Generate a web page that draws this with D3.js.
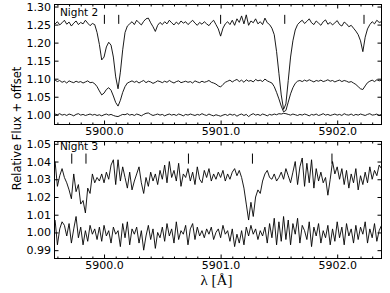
<!DOCTYPE html>
<html><head><meta charset="utf-8">
<script src="https://cdnjs.cloudflare.com/ajax/libs/d3/7.8.5/d3.min.js"></script>
<style>body{margin:0;background:#fff} svg{display:block;background:#fff}</style>
</head><body><svg id="c" width="390" height="293"></svg>
<script>
const wavelength = [
5899.58,5899.60,5899.62,5899.64,5899.66,5899.68,5899.70,5899.72,5899.74,5899.76,
5899.78,5899.80,5899.82,5899.84,5899.86,5899.88,5899.90,5899.92,5899.94,5899.96,
5899.98,5900.00,5900.02,5900.04,5900.06,5900.08,5900.10,5900.12,5900.14,5900.16,
5900.18,5900.20,5900.22,5900.24,5900.26,5900.28,5900.30,5900.32,5900.34,5900.36,
5900.38,5900.40,5900.42,5900.44,5900.46,5900.48,5900.50,5900.52,5900.54,5900.56,
5900.58,5900.60,5900.62,5900.64,5900.66,5900.68,5900.70,5900.72,5900.74,5900.76,
5900.78,5900.80,5900.82,5900.84,5900.86,5900.88,5900.90,5900.92,5900.94,5900.96,
5900.98,5901.00,5901.02,5901.04,5901.06,5901.08,5901.10,5901.12,5901.14,5901.16,
5901.18,5901.20,5901.22,5901.24,5901.26,5901.28,5901.30,5901.32,5901.34,5901.36,
5901.38,5901.40,5901.42,5901.44,5901.46,5901.48,5901.50,5901.52,5901.54,5901.56,
5901.58,5901.60,5901.62,5901.64,5901.66,5901.68,5901.70,5901.72,5901.74,5901.76,
5901.78,5901.80,5901.82,5901.84,5901.86,5901.88,5901.90,5901.92,5901.94,5901.96,
5901.98,5902.00,5902.02,5902.04,5902.06,5902.08,5902.10,5902.12,5902.14,5902.16,
5902.18,5902.20,5902.22,5902.24,5902.26,5902.28,5902.30,5902.32,5902.34,5902.36,
5902.38];

const night2Top = [
1.252,1.258,1.249,1.255,1.262,1.251,1.257,1.246,1.254,1.260,
1.250,1.256,1.252,1.262,1.254,1.247,1.253,1.250,1.228,1.195,
1.152,1.160,1.188,1.201,1.193,1.160,1.105,1.072,1.118,1.180,
1.228,1.246,1.252,1.258,1.250,1.262,1.255,1.249,1.259,1.266,
1.268,1.255,1.244,1.231,1.248,1.256,1.250,1.258,1.252,1.262,
1.255,1.249,1.257,1.251,1.260,1.254,1.258,1.250,1.256,1.262,
1.254,1.248,1.256,1.251,1.258,1.252,1.247,1.256,1.262,1.250,
1.238,1.218,1.240,1.252,1.258,1.250,1.262,1.248,1.266,1.256,
1.274,1.252,1.277,1.248,1.260,1.255,1.266,1.252,1.258,1.250,
1.268,1.255,1.250,1.240,1.222,1.175,1.115,1.055,1.015,1.030,
1.095,1.160,1.205,1.235,1.250,1.257,1.262,1.253,1.259,1.266,
1.255,1.250,1.260,1.254,1.248,1.258,1.263,1.251,1.256,1.249,
1.255,1.261,1.250,1.246,1.257,1.252,1.244,1.248,1.240,1.232,
1.222,1.205,1.175,1.215,1.238,1.250,1.258,1.252,1.262,1.256,
1.258];

const night2Mid = [
1.096,1.092,1.095,1.090,1.093,1.088,1.094,1.091,1.089,1.093,
1.090,1.092,1.088,1.091,1.094,1.089,1.090,1.086,1.078,1.066,
1.055,1.060,1.070,1.075,1.068,1.052,1.034,1.024,1.040,1.062,
1.078,1.088,1.091,1.094,1.090,1.093,1.088,1.092,1.095,1.089,
1.093,1.091,1.087,1.090,1.094,1.092,1.089,1.093,1.090,1.095,
1.091,1.088,1.092,1.094,1.089,1.091,1.093,1.090,1.092,1.088,
1.094,1.091,1.089,1.093,1.090,1.092,1.095,1.090,1.088,1.085,
1.080,1.077,1.084,1.090,1.093,1.096,1.091,1.095,1.098,1.092,
1.096,1.090,1.097,1.093,1.095,1.091,1.098,1.094,1.096,1.092,
1.099,1.094,1.091,1.088,1.078,1.062,1.044,1.024,1.008,1.012,
1.035,1.058,1.075,1.087,1.093,1.095,1.092,1.096,1.093,1.097,
1.094,1.091,1.095,1.093,1.096,1.092,1.094,1.097,1.093,1.095,
1.091,1.094,1.096,1.092,1.095,1.093,1.090,1.092,1.088,1.084,
1.078,1.072,1.070,1.080,1.089,1.093,1.096,1.092,1.097,1.094,
1.096];

const night2Low = [
1.002,1.000,1.003,0.999,1.001,0.998,1.002,1.000,0.997,1.001,
1.003,0.999,1.001,0.998,1.000,1.002,0.999,1.001,0.998,1.000,
0.997,1.000,1.002,0.999,1.001,0.998,0.996,0.995,0.998,1.001,
1.000,1.003,0.999,1.001,0.998,1.002,1.000,0.997,1.001,1.004,
1.005,1.001,0.998,1.000,1.002,0.999,1.001,0.997,1.000,1.002,
0.999,1.001,0.998,1.002,1.000,0.997,1.001,0.999,1.002,1.000,
0.998,1.001,0.999,1.003,1.000,0.998,1.002,0.999,0.997,1.000,
0.998,0.996,0.999,1.001,0.998,1.002,0.999,1.001,0.996,1.000,
1.002,0.998,1.001,0.995,1.000,1.003,0.999,1.001,0.998,1.002,
1.000,0.997,1.001,0.999,1.002,1.000,1.003,1.002,1.004,1.003,
1.001,0.999,1.002,1.000,0.998,1.001,0.999,1.002,1.000,0.997,
1.001,0.999,1.002,0.998,1.000,1.003,0.999,1.001,0.998,1.000,
1.002,0.999,1.001,0.998,1.003,1.000,0.999,1.002,0.998,1.001,
0.999,1.002,1.000,0.998,1.001,1.003,0.999,1.000,1.002,0.998,
1.001];

const night3Top = [
1.040,1.026,1.032,1.036,1.031,1.028,1.024,1.019,1.033,1.023,
1.027,1.016,1.018,1.011,1.025,1.022,1.033,1.028,1.031,1.029,
1.033,1.028,1.034,1.030,1.038,1.041,1.027,1.041,1.029,1.037,
1.031,1.025,1.034,1.024,1.029,1.033,1.037,1.028,1.022,1.031,
1.026,1.034,1.029,1.033,1.027,1.035,1.030,1.038,1.028,1.040,
1.031,1.035,1.029,1.039,1.026,1.033,1.031,1.036,1.029,1.034,
1.027,1.037,1.030,1.028,1.035,1.031,1.036,1.029,1.033,1.030,
1.034,1.031,1.035,1.029,1.033,1.030,1.034,1.036,1.032,1.035,
1.031,1.025,1.016,1.007,1.017,1.009,1.020,1.024,1.022,1.029,
1.033,1.035,1.031,1.030,1.033,1.029,1.031,1.034,1.030,1.036,
1.032,1.028,1.034,1.040,1.027,1.037,1.042,1.026,1.039,1.028,
1.041,1.025,1.036,1.029,1.034,1.028,1.031,1.021,1.030,1.040,
1.033,1.037,1.030,1.036,1.027,1.035,1.025,1.033,1.028,1.036,
1.024,1.032,1.027,1.034,1.028,1.037,1.030,1.035,1.032,1.038,
1.036];

const night3Low = [
1.007,0.993,1.002,1.006,1.004,0.998,1.005,0.994,1.002,1.009,
0.997,1.003,0.993,1.001,0.995,1.004,0.999,1.002,0.996,1.003,
0.995,1.004,0.998,1.001,0.994,1.003,0.999,1.001,0.992,1.005,
0.997,1.006,0.993,1.002,0.999,1.003,0.994,1.001,0.990,0.998,
1.004,0.996,1.002,0.991,1.000,0.997,1.003,0.995,1.005,0.998,
1.002,0.994,1.006,0.996,1.001,0.999,1.004,0.993,1.002,1.005,
0.996,1.003,0.998,1.001,0.997,1.002,0.999,1.003,0.996,1.000,
1.002,0.997,1.004,0.999,1.001,0.995,1.002,0.992,0.999,0.994,
1.001,0.993,1.003,0.998,1.004,0.999,1.002,0.996,1.001,0.998,
1.003,0.994,1.005,0.997,1.008,0.993,1.006,0.995,1.009,0.996,
1.007,0.993,1.005,0.999,1.008,0.994,1.004,1.001,0.996,1.006,
0.992,1.003,0.998,1.005,0.994,1.001,0.997,1.004,0.993,1.002,
0.995,1.006,0.997,1.003,0.993,1.005,0.998,1.002,0.994,1.004,
0.996,1.003,0.999,1.006,0.994,1.002,0.997,1.005,0.995,1.001,
1.004];

const night2Marks = [5900.003, 5900.126, 5901.0, 5901.55, 5902.23];
const night3Marks = [5899.723, 5899.845, 5900.724, 5901.273, 5901.955];
const night2MarkSpan = [1.252, 1.277];
const night3MarkSpan = [1.0388, 1.0445];

const xMajorTicks = [5900.0, 5901.0, 5902.0];
const xMinorTicks = [5899.6,5899.7,5899.8,5899.9,5900.1,5900.2,5900.3,5900.4,5900.5,5900.6,5900.7,5900.8,5900.9,
                     5901.1,5901.2,5901.3,5901.4,5901.5,5901.6,5901.7,5901.8,5901.9,5902.1,5902.2,5902.3];
const night2YTicks = [1.00, 1.05, 1.10, 1.15, 1.20, 1.25, 1.30];
const night3YTicks = [0.99, 1.00, 1.01, 1.02, 1.03, 1.04, 1.05];
const panelLabels = ["Night 2", "Night 3"];

const svg = d3.select('#c');
const L = 54.5, R = 381.5;
const x = d3.scaleLinear().domain([5899.575, 5902.38]).range([L, R]);

const panels = [
  {top: 4.5, bottom: 124.5, yDomain: [0.973, 1.3057], yTicks: night2YTicks, fmt: d3.format('.2f'),
   series: [night2Top, night2Mid, night2Low], marks: night2Marks, span: night2MarkSpan, label: panelLabels[0], labelY: 16},
  {top: 141.5, bottom: 258.5, yDomain: [0.9853, 1.0513], yTicks: night3YTicks, fmt: d3.format('.2f'),
   series: [night3Top, night3Low], marks: night3Marks, span: night3MarkSpan, label: panelLabels[1], labelY: 149.5}
];

panels.forEach((p, k) => {
  const y = d3.scaleLinear().domain(p.yDomain).range([p.bottom, p.top]);
  const g = svg.append('g');
  const cid = 'clip' + k;
  svg.append('clipPath').attr('id', cid).append('rect')
    .attr('x', L).attr('y', p.top).attr('width', R - L).attr('height', p.bottom - p.top);
  const line = d3.line().x((d, i) => x(wavelength[i])).y(d => y(d));
  const lg = g.append('g').attr('clip-path', `url(#${cid})`);
  p.series.forEach(s => {
    lg.append('path').datum(s).attr('d', line)
      .attr('fill', 'none').attr('stroke', '#000').attr('stroke-width', 0.9).attr('stroke-linejoin', 'round');
  });
  lg.selectAll('line.mark').data(p.marks).join('line').attr('class', 'mark')
    .attr('x1', d => x(d)).attr('x2', d => x(d))
    .attr('y1', y(p.span[0])).attr('y2', y(p.span[1]))
    .attr('stroke', '#000').attr('stroke-width', 1);

  const styleAxis = sel => {
    sel.attr('font-family', 'DejaVu Sans').attr('font-size', 11);
    sel.select('.domain').remove();
    sel.selectAll('.tick line').attr('stroke', '#000').attr('stroke-width', 1);
    sel.selectAll('.tick text').attr('fill', '#000');
  };
  g.append('g').attr('transform', `translate(0,${p.bottom})`)
    .call(d3.axisBottom(x).tickValues(xMajorTicks).tickFormat(d3.format('.1f')).tickSize(-4).tickPadding(3))
    .call(styleAxis);
  g.append('g').attr('transform', `translate(0,${p.bottom})`)
    .call(d3.axisBottom(x).tickValues(xMinorTicks).tickFormat('').tickSize(-2))
    .call(styleAxis);
  g.append('g').attr('transform', `translate(0,${p.top})`)
    .call(d3.axisTop(x).tickValues(xMajorTicks).tickFormat('').tickSize(-4))
    .call(styleAxis);
  g.append('g').attr('transform', `translate(0,${p.top})`)
    .call(d3.axisTop(x).tickValues(xMinorTicks).tickFormat('').tickSize(-2))
    .call(styleAxis);
  g.append('g').attr('transform', `translate(${L},0)`)
    .call(d3.axisLeft(y).tickValues(p.yTicks).tickFormat(p.fmt).tickSize(-4).tickPadding(3.5))
    .call(styleAxis);
  g.append('g').attr('transform', `translate(${R},0)`)
    .call(d3.axisRight(y).tickValues(p.yTicks).tickFormat('').tickSize(-4))
    .call(styleAxis);
  g.append('rect').attr('x', L).attr('y', p.top).attr('width', R - L).attr('height', p.bottom - p.top)
    .attr('fill', 'none').attr('stroke', '#000').attr('stroke-width', 1);
  g.append('text').attr('x', 60).attr('y', p.labelY).text(p.label)
    .attr('font-family', 'DejaVu Sans').attr('font-size', 10.5).attr('fill', '#000');
});

svg.append('text').attr('transform', 'translate(21,128.5) rotate(-90)')
  .attr('text-anchor', 'middle').attr('font-family', 'DejaVu Sans').attr('font-size', 11.5)
  .attr('fill', '#000').text('Relative Flux + offset');

svg.append('text').attr('x', 216.5).attr('y', 285).attr('text-anchor', 'middle')
  .attr('font-family', 'Liberation Serif').attr('font-size', 15).attr('fill', '#000').text('λ [Å]');
</script>
</body></html>
